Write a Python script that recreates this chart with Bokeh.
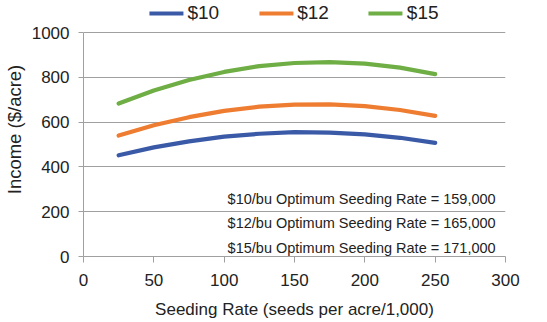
from bokeh.plotting import figure
from bokeh.models import Range1d, Legend, LegendItem, FixedTicker
from bokeh.core.properties import value
from bokeh.embed import file_html
from bokeh.resources import INLINE

seeding_rate = [25, 50, 75, 100, 125, 150, 175, 200, 225, 250]
income_10 = [452, 487, 514, 535, 548, 555, 553, 545, 530, 507]
income_12 = [540, 586, 622, 650, 669, 678, 679, 671, 654, 628]
income_15 = [683, 741, 788, 824, 850, 864, 868, 861, 843, 814]
series_names = ["$10", "$12", "$15"]
notes = ["$10/bu Optimum Seeding Rate = 159,000",
         "$12/bu Optimum Seeding Rate = 165,000",
         "$15/bu Optimum Seeding Rate = 171,000"]
x_ticks = [0, 50, 100, 150, 200, 250, 300]
y_ticks = [0, 200, 400, 600, 800, 1000]

FONT = "Liberation Sans"
colors = ["#3A5AA8", "#EE7D31", "#6FAE45"]

# frame spans from the top of the window; values above 1000 hold the legend
p = figure(width=547, height=322, output_backend="svg", toolbar_location=None,
           x_range=Range1d(0, 300), y_range=Range1d(0, 1134),
           min_border_left=82, min_border_right=42, min_border_top=2, min_border_bottom=66)

renderers = []
for ys, c in zip([income_10, income_12, income_15], colors):
    r = p.line(seeding_rate, ys, line_color=c, line_width=4.2, line_cap="round")
    renderers.append(r)

note_x = [293, 293, 293]
note_y = [258, 151, 40]
p.text(x=note_x, y=note_y, text=notes, text_align="right", text_baseline="middle",
       text_font=value(FONT), text_font_size="14.5px", text_color="#222222")

legend = Legend(items=[LegendItem(label=n, renderers=[r]) for n, r in zip(series_names, renderers)],
                orientation="horizontal", location="top_center",
                padding=0, margin=0, spacing=40, glyph_width=34, glyph_height=14,
                label_standoff=4, label_text_font=FONT, label_text_font_size="19px",
                label_text_color="#222222", border_line_color=None, background_fill_alpha=0)
p.add_layout(legend, "center")

p.outline_line_color = None
p.xgrid.visible = False
p.ygrid.grid_line_color = "#A0A0A0"
p.ygrid.grid_line_width = 1

for ax in (p.xaxis[0], p.yaxis[0]):
    ax.axis_line_color = "#A0A0A0"
    ax.major_tick_line_color = "#A0A0A0"
    ax.minor_tick_line_color = None
    ax.major_tick_in = 0
    ax.major_label_text_font = FONT
    ax.major_label_text_font_size = "17px"
    ax.major_label_text_color = "#222222"
    ax.axis_label_text_font = FONT
    ax.axis_label_text_font_size = "17px"
    ax.axis_label_text_font_style = "normal"
    ax.axis_label_text_color = "#222222"

p.yaxis[0].axis_label_text_font_size = "18.5px"
p.xaxis[0].ticker = FixedTicker(ticks=x_ticks)
p.yaxis[0].ticker = FixedTicker(ticks=y_ticks)
p.yaxis[0].bounds = (0, 1000)
p.xaxis[0].major_tick_out = 6
p.yaxis[0].major_tick_out = 5
p.xaxis[0].major_label_standoff = 11
p.yaxis[0].major_label_standoff = 9
p.xaxis[0].axis_label = "Seeding Rate (seeds per acre/1,000)"
p.yaxis[0].axis_label = "Income ($/acre)"
p.xaxis[0].axis_label_standoff = 11
p.yaxis[0].axis_label_standoff = 4

open("out.html", "w").write(file_html(p, INLINE))
